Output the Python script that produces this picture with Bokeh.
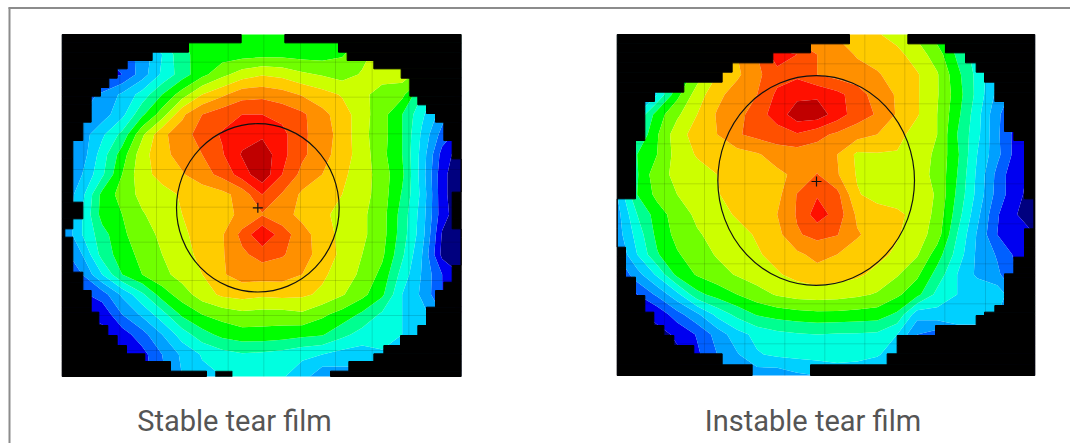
from bokeh.plotting import figure
from bokeh.models import Range1d
from bokeh.embed import file_html
from bokeh.resources import INLINE
from bokeh.core.properties import value
import numpy as np

captions = ["Stable tear film", "Instable tear film"]
band_colors = ["#00007f", "#0000f0", "#0060ff", "#00a0ff", "#00d0ff", "#00ffe0", "#00ff90", "#00ff00",
               "#70ff00", "#ccff00", "#ffcc00", "#ff9000", "#ff5000", "#ff1000", "#c00000"]
band_levels = list(range(16))

# Stable map: crop-space nodes (crop origin 50,25, 3x)
a_x = [35, 95, 155, 215, 275, 335, 395, 455, 515, 575, 635, 695, 755, 815, 875, 935, 995, 1055, 1115, 1175, 1232]
a_y = [27, 87, 147, 207, 267, 327, 387, 447, 507, 567, 627, 687, 747, 807, 867, 927, 987, 1053]
a_z = [
 [3,3,3,4,5,6,7,7.2,7.3,7.5,7.5,7.5,7.5,7.5,7.5,8,8.5,8.5,8,7,6],
 [2,2,2,2.5,3.3,5,6.8,7.3,7.5,7.6,7.7,7.7,7.6,7.6,7.9,8.7,9.5,9,8,6,4],
 [1.5,1.5,1.5,2.0,3.5,5.2,6.5,7.7,8.7,9.5,9.9,9.7,9.2,8.9,8.6,9.1,9.5,9.5,8.5,6,4],
 [2,2.5,3.2,4.2,5.4,7,8.5,10,10.8,11.6,11.7,11.4,10.9,10.4,9.9,9.3,8.5,8.3,6,4,2.5],
 [2.5,3,3.5,4.7,6.8,8.5,10.8,12,12.6,13,13,12.7,12.2,11.3,10.5,9.4,8.4,7,5.2,3.5,2],
 [2.5,3.5,4.8,6.3,8.8,10.8,11.5,12.5,13.1,13.6,13.8,13.3,12.2,11.5,10.6,9.3,8.4,7,4.8,2.6,1.5],
 [2.5,3.5,5.5,7.5,9.6,10.7,11.4,12,12.9,14.1,14.7,13.3,12.2,11.4,10.5,9.5,8.3,7,4.6,1.6,0.4],
 [3,4,5.8,8,9.7,10.3,10.9,11.6,12.3,13.5,14.7,13,11.7,11,10.2,9.5,8.5,7.2,4.5,1.3,0.2],
 [3,4.7,7.3,8.4,9.3,9.7,10.1,10.4,10.7,11.4,13,11.9,10.8,10.4,10,9.4,8.5,6.9,4.7,1.3,0.2],
 [3,5,7.4,8,8.9,9.5,10,10.4,10.7,11.2,11.9,11.4,10.7,10.2,9.7,9.2,8.4,6.6,4.5,1.4,0.3],
 [3,5,6.6,7.8,8.6,9.2,9.8,10.4,10.9,12.3,13.9,12.5,11.4,10.5,9.7,9.2,8.4,6.5,4.4,0.9,0.2],
 [2.5,4,6.4,7.5,8.3,9,9.6,10.3,10.9,11.8,12.4,12.1,11.5,10.5,9.8,9,8.2,6.2,4,0.7,0.2],
 [2,3,5,7,8,8.7,9.4,10,10.9,11.4,11.4,11.4,11,10.2,9.5,8.8,7.7,5.6,3.9,2,1],
 [1.5,1.8,2.5,4.2,5.8,7.5,8.5,9.5,10.2,10.4,10.2,10.3,10.2,9.8,9.1,8.3,7.2,5,3.8,2,1],
 [1,1,1.2,3,4.2,5.6,7.2,8,8.4,8.7,8.6,8.6,8.8,8.2,7.6,6.8,5.8,5,4.4,3,2],
 [0.8,0.8,0.8,1.5,2.6,4,5.5,6.6,7.3,7.6,7.6,7.5,7.3,7.1,6.3,5.6,5.3,5,4.6,3,2],
 [0.8,0.8,0.8,1,1.6,3,4.2,5.1,5.6,5.9,5.8,5.6,5.2,5,4.6,4.5,4.9,5,4.5,3,2],
 [0.8,0.8,0.8,0.9,1.4,2.8,4,4.7,5,5.1,5.2,5.1,4.5,3.2,3.5,3.6,4,4,3.5,2.5,2],
]
a_row_top = [27,52,80,105,130,158,186,212,238,264,290,345,400,500,530,580,610,635,720,740,770,795,845,860,900,930,960,985,1008,1037]
a_row_left = [572,414,305,230,200,175,150,122,122,122,97,67,67,67,97,67,43,67,67,97,97,122,122,145,172,200,228,283,360,468]
a_row_right = [703,864,890,970,1052,1078,1078,1102,1128,1155,1180,1205,1232,1205,1205,1205,1232,1232,1205,1205,1180,1155,1128,1128,1102,1050,1000,970,895,840]
a_grid_x = [100,208,318,425,533,640,750,855,965,1075]
a_grid_y = [110,215,325,432,545,650,765,870,975]
a_notch = [495,545,1037]

# Instable map: crop-space nodes (crop origin 610,25, 3x)
b_x = [20,80,140,200,260,320,380,440,500,560,620,680,740,800,860,920,980,1040,1100,1160,1220,1273]
b_y = [27, 87, 147, 207, 267, 327, 387, 447, 507, 567, 627, 687, 747, 807, 867, 927, 987, 1050]
b_z = [
 [4,5,6,7,8,9,10,10.6,11,11.4,11.3,10.9,10.5,10.1,9.6,8.8,7.5,6,5,4,3,2],
 [4,5,6,7,8.5,10,11,12,13.6,13,12,11.5,10.9,10.6,10.3,9.5,8.5,6.8,5.5,4,3,2],
 [3.5,4.5,5.5,7,8.5,10,10.8,11.8,12.6,12.8,12,11.6,11.4,11.1,10.6,10.1,9.1,7.3,5.7,4,3,2],
 [3,3.5,5,7.7,9.5,10.7,11.5,12,13.2,13.7,13.8,13.3,12.5,11.5,10.9,10.1,9.1,7.5,5.7,3.7,2.5,2],
 [3,5,7.5,8.8,10,11.1,11.6,12.6,13.4,14.6,14.6,13.5,12.5,11.9,10.9,10.1,9,7.3,5.4,3.2,2,1],
 [3,6,7.9,9.6,10.4,11,11.9,12.3,12.6,12.9,12.3,11.8,11.4,11,10.4,9.5,9,7,5.3,3.2,1.5,1],
 [3,7,8,9.4,10.1,10.3,10.6,10.9,11.4,11.5,11.5,11,9.8,9.9,9.9,9.5,8.8,7.2,5,3.3,1.5,1],
 [3,6.9,8.7,9.2,9.6,10,10.2,10.4,10.8,11.2,12.05,11.1,9.9,9.6,9.5,9.3,8.8,7,4.8,2.7,1.1,0.9],
 [4,7,8.3,9,9.5,9.95,10.3,10.5,10.7,12.05,12.9,12.3,10.1,9.6,9.5,9.5,8.9,6.8,4.7,2.6,1.2,0.6],
 [3.6,6,7.5,8.5,9.2,9.7,10.1,10.4,11,12.1,13.5,12.6,10.8,10.5,10.2,9.7,8.7,6.5,4.3,2.1,1,0.4],
 [3.5,5.4,7.3,8.3,8.9,9.3,9.7,10.1,10.7,11.9,12.3,12.05,11.1,10.6,10.1,9.5,8.5,6,3.9,2,1.2,1],
 [3,5,6.9,7.9,8.5,9.1,9.5,9.9,10.3,10.8,11.3,11,10.6,10.3,9.8,9.1,7.5,5.6,3.8,2.9,1.7,1],
 [2,3.6,5.2,7.3,8.1,8.6,9.1,9.5,9.9,10.3,10.6,10.4,10.2,9.7,9.1,8.2,6.6,5,3.8,3.2,2,1],
 [1,2,3.2,4.7,6.7,7.4,8,8.6,9.1,9.4,9.5,9.4,9.2,8.9,8.2,7.3,5.7,5,4.9,4.7,3,2],
 [0.8,0.9,1.2,2.6,3.8,5.3,6.3,7.1,7.4,7.6,7.7,7.7,7.6,7.5,6.8,4.4,4.6,5,5,4,3,2],
 [0.8,0.8,0.8,1.1,2.1,3.4,4.6,5.3,5.7,5.9,6,5.9,5.9,5.8,5,3,2.5,3,3,3,2,2],
 [0.8,0.8,0.8,0.9,1.8,3,3.9,4.9,5.2,5.3,5.4,5.4,5.3,5.1,4.5,3.5,3,3,3,3,2,2],
 [0.8,0.8,0.8,0.9,1.5,2.8,3.4,3.4,3.3,3.8,4,4.4,4.4,4.2,4,3.5,3,3,3,3,2,2],
]
b_row_top = [27,55,82,112,140,170,200,228,258,318,345,520,610,665,695,725,745,755,810,840,860,870,900,930,960,985,1018]
b_row_left = [717,600,487,365,335,220,132,103,103,103,75,20,20,45,45,45,45,75,103,103,130,130,160,190,250,335,425]
b_row_right = [892,1005,1065,1097,1122,1153,1153,1182,1182,1210,1242,1270,1242,1242,1210,1210,1182,1182,1182,1153,1122,1097,975,860,860,830,600]
b_grid_x = [162,282,403,523,643,763,883,1003,1125]
b_grid_y = [115,235,355,475,595,715,835,955]

p = figure(width=1070, height=443, output_backend="svg", toolbar_location=None,
           x_range=Range1d(0, 1070), y_range=Range1d(443, 0), min_border=0, outline_line_color=None)
p.xaxis.visible = False
p.yaxis.visible = False
p.xgrid.visible = False
p.ygrid.visible = False
p.background_fill_color = "white"
p.border_fill_color = "white"

def sx(v, o): return np.asarray(v, dtype=float) / 3 + o
def sy(v): return np.asarray(v, dtype=float) / 3 + 25

def draw_map(xs, ys, z, tops, lefts, rights, gx, gy, ox, x0, x1, y0, y1, circle, cross, notch=None):
    p.contour(sx(xs, ox), sy(ys), np.array(z), levels=band_levels, fill_color=band_colors, line_color=None)
    X0, X1, Y0, Y1 = ox + x0 / 3, ox + x1 / 3, sy(y0), sy(y1)
    T = sy(tops)
    B = np.append(T[1:], Y1)
    L, R = sx(lefts, ox), sx(rights, ox)
    p.segment(x0=sx(gx, ox), y0=[Y0] * len(gx), x1=sx(gx, ox), y1=[Y1] * len(gx), line_color="black", line_alpha=0.13, line_width=1)
    p.segment(x0=[X0] * len(gy), y0=sy(gy), x1=[X1] * len(gy), y1=sy(gy), line_color="black", line_alpha=0.13, line_width=1)
    p.quad(left=[X0] * len(T), right=L, top=T, bottom=B, fill_color="black", line_color="black", line_width=1)
    p.quad(left=R, right=[X1] * len(T), top=T, bottom=B, fill_color="black", line_color="black", line_width=1)
    if notch:
        p.quad(left=[sx(notch[0], ox)], right=[sx(notch[1], ox)], top=[sy(notch[2])], bottom=[Y1], fill_color="black", line_color="black", line_width=0.5)
    cx, cy, w, h = circle
    p.ellipse(x=[sx(cx, ox)], y=[sy(cy)], width=[w / 3], height=[h / 3], fill_color=None, line_color="#111111", line_width=1.2)
    p.scatter(x=[sx(cross[0], ox)], y=[sy(cross[1])], marker="cross", size=10, fill_color=None, line_color="#111111", line_width=1.2)

draw_map(a_x, a_y, a_z, a_row_top, a_row_left, a_row_right, a_grid_x, a_grid_y, 50, 35, 1232, 27, 1053,
         (622, 547, 488, 505), (622, 547), a_notch)
draw_map(b_x, b_y, b_z, b_row_top, b_row_left, b_row_right, b_grid_x, b_grid_y, 610, 20, 1273, 27, 1050,
         (617, 465, 590, 630), (618, 468))

# frame of the surrounding page block
p.segment(x0=[8], y0=[7.5], x1=[1070], y1=[7.5], line_color="#8c8c8c", line_width=2)
p.segment(x0=[9], y0=[7], x1=[9], y1=[443], line_color="#8c8c8c", line_width=2)

p.text(x=[234, 812.5], y=[420, 420], text=captions, text_font=value("Roboto"), text_font_size="29px",
       text_color="#555555", text_align="center", text_baseline="middle")

open("out.html", "w").write(file_html(p, INLINE))
